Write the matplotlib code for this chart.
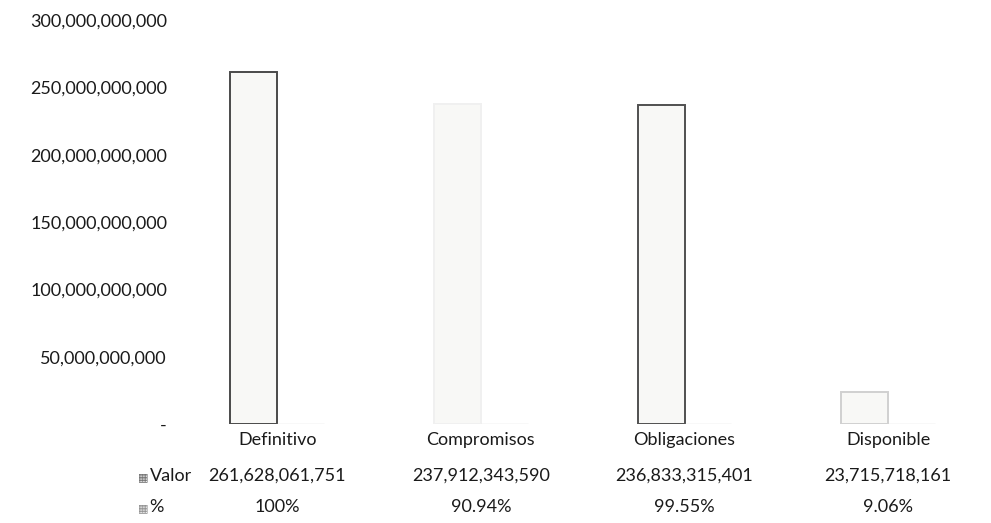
import numpy as np
import matplotlib
matplotlib.use("Agg")
import matplotlib.pyplot as plt
from matplotlib.transforms import blended_transform_factory

categories = ["Definitivo", "Compromisos", "Obligaciones", "Disponible"]
valor = [261628061751, 237912343590, 236833315401, 23715718161]
pct = [1.0, 0.9094, 0.9955, 0.0906]
valor_labels = ["261,628,061,751", "237,912,343,590", "236,833,315,401", "23,715,718,161"]
pct_labels = ["100%", "90.94%", "99.55%", "9.06%"]
yticks = [0, 50e9, 100e9, 150e9, 200e9, 250e9, 300e9]
ytick_labels = ["-", "50,000,000,000", "100,000,000,000", "150,000,000,000",
                "200,000,000,000", "250,000,000,000", "300,000,000,000"]

plt.rcParams['font.family'] = ['Lato', 'DejaVu Sans']

fig = plt.figure(figsize=(9.91, 5.23), dpi=100)
ax = fig.add_axes([0.177, 0.189, 0.822, 0.773])

x = np.arange(len(categories))
w = 0.23
edges = ["#4a4a4a", "#f0f0f0", "#505050", "#d0d0d0"]
ax.bar(x - w / 2, valor, width=w, color="#f8f8f6", edgecolor=edges, linewidth=1.4)
ax.bar(x + w / 2, pct, width=w, color="#f0f0f0", edgecolor="#e0e0e0", linewidth=1)

ax.set_xlim(-0.5, 3.5)
ax.set_ylim(0, 300e9)
ax.set_yticks(yticks)
ax.set_yticklabels(ytick_labels, fontsize=13, color="#1a1a1a")
ax.tick_params(axis="y", length=0, pad=6)
ax.set_xticks([])
for s in ax.spines.values():
    s.set_visible(False)

# data table below the plot
tr = blended_transform_factory(ax.transData, fig.transFigure)
rows = [(1 - 440 / 523, categories), (1 - 476 / 523, valor_labels), (1 - 507 / 523, pct_labels)]
for yy, labels in rows:
    for xi, lab in zip(x, labels):
        ax.text(xi, yy, lab, transform=tr, ha="center", va="center",
                fontsize=13, color="#1a1a1a", clip_on=False)

fig.text(0.139, 1 - 477 / 523, "\u25a6", fontsize=8, color="#666666",
         ha="left", va="center", family="DejaVu Sans")
fig.text(0.151, 1 - 476 / 523, "Valor", fontsize=13, color="#1a1a1a",
         ha="left", va="center")
fig.text(0.139, 1 - 508 / 523, "\u25a6", fontsize=8, color="#888888",
         ha="left", va="center", family="DejaVu Sans")
fig.text(0.151, 1 - 507 / 523, "%", fontsize=13, color="#1a1a1a",
         ha="left", va="center")

fig.savefig("out.png", dpi=100)
